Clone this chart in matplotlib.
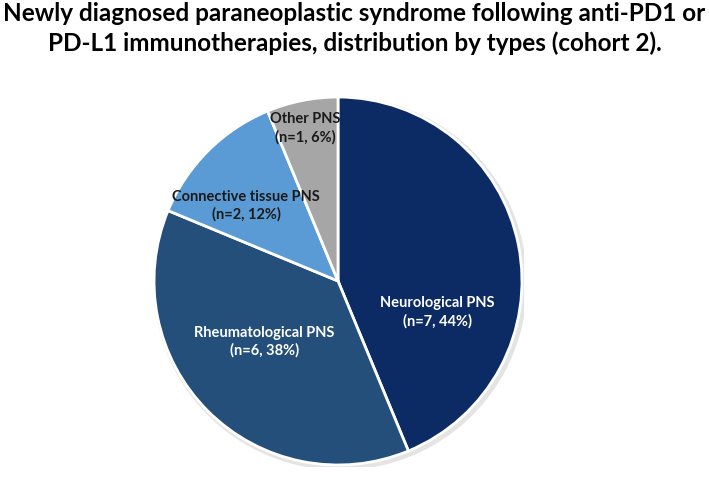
import matplotlib
matplotlib.use('Agg')
import matplotlib.pyplot as plt
from matplotlib.patches import Circle

plt.rcParams['font.family'] = ['Lato', 'DejaVu Sans']

labels = ['Neurological PNS', 'Rheumatological PNS', 'Connective tissue PNS', 'Other PNS']
counts = [7, 6, 2, 1]
percents = [44, 38, 12, 6]
colors = ['#0C2A63', '#234F7A', '#5B9BD5', '#A6A6A6']
text_colors = ['white', 'white', '#1A1A1A', '#1A1A1A']
label_pos = [(0.54, -0.17), (-0.40, -0.33), (-0.50, 0.41), (-0.18, 0.83)]

fig = plt.figure(figsize=(7.09, 4.83), dpi=100)
fig.text(0.5, 0.995, 'Newly diagnosed paraneoplastic syndrome following anti-PD1 or\n'
         'PD-L1 immunotherapies, distribution by types (cohort 2).',
         ha='center', va='top', fontsize=17.5, fontweight='bold', linespacing=1.3)

# pie centre ~ (338, 281) px, radius ~184 px
ax = fig.add_axes([(338 - 186) / 709, (483 - 281 - 186) / 483, 372 / 709, 372 / 483])
# soft halo round the pie
ax.add_patch(Circle((0.012, -0.012), 1.012, color='#E4E4E4', zorder=0))
ax.pie(counts, colors=colors, startangle=90, counterclock=False,
       wedgeprops=dict(edgecolor='white', linewidth=2), radius=1)
ax.set_aspect('auto')
ax.set_xlim(-1.011, 1.011)
ax.set_ylim(-1.011, 1.011)

for lab, n, p, c, (x, y) in zip(labels, counts, percents, text_colors, label_pos):
    ax.text(x, y, f'{lab}\n(n={n}, {p}%)', ha='center', va='center', color=c,
            fontsize=10.5, fontweight='bold', linespacing=1.3)

plt.savefig('out.png', dpi=100)
plt.close()
